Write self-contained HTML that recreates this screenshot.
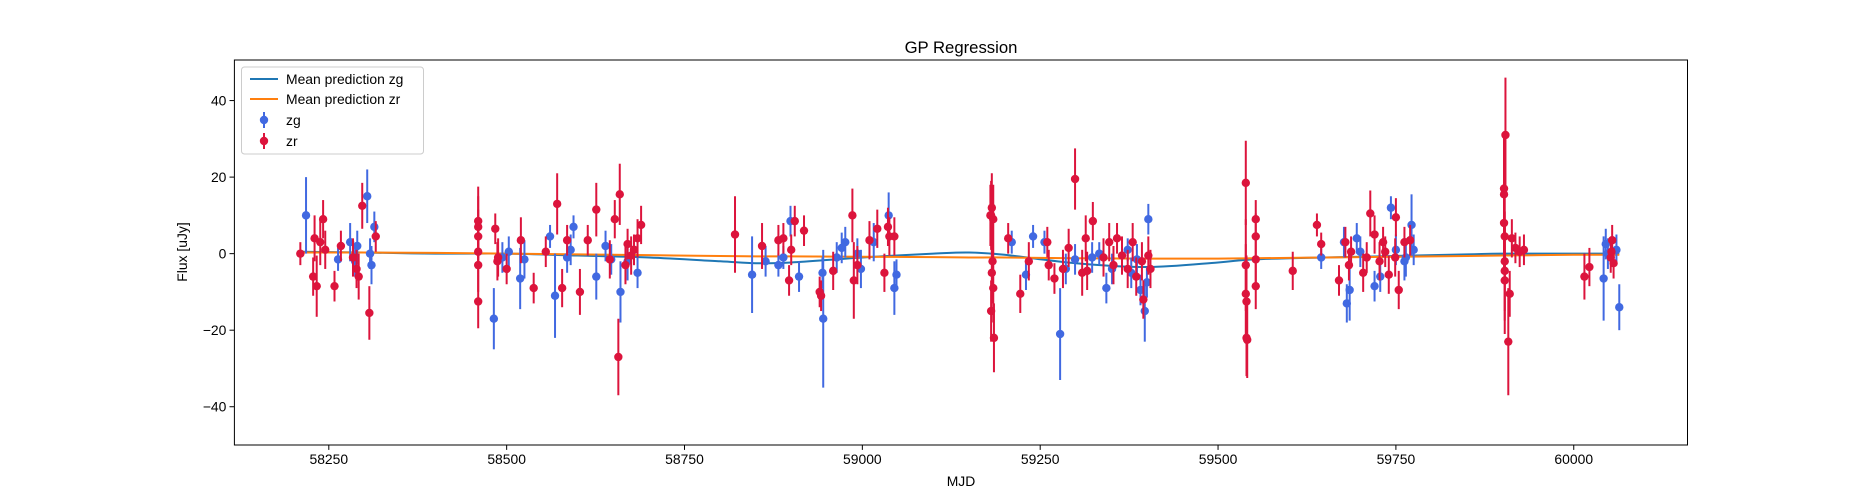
<!DOCTYPE html>
<html><head><meta charset="utf-8">
<style>
body{margin:0;background:#fff;}
svg{display:block;font-family:"Liberation Sans","DejaVu Sans",sans-serif;}
</style></head>
<body>
<svg id="chart" width="1875" height="500" viewBox="0 0 1875 500" xmlns="http://www.w3.org/2000/svg">
<rect width="1875" height="500" fill="#fff"/>
<text x="961" y="53" font-size="16.7" text-anchor="middle">GP Regression</text>
<g id="plot"></g>
<rect x="234.4" y="60" width="1453.1" height="385" fill="none" stroke="#000" stroke-width="1"/>
<g id="axes"></g>
<text x="961" y="486" font-size="13.9" text-anchor="middle">MJD</text>
<text transform="translate(187,252) rotate(-90)" font-size="13.9" text-anchor="middle">Flux [uJy]</text>
<g>
<rect x="241.5" y="67" width="182" height="87" rx="3" fill="#fff" fill-opacity="0.8" stroke="#ccc"/>
<line x1="250" y1="79" x2="278" y2="79" stroke="#1f77b4" stroke-width="2"/>
<text x="286" y="84" font-size="13.9">Mean prediction zg</text>
<line x1="250" y1="99" x2="278" y2="99" stroke="#ff7f0e" stroke-width="2"/>
<text x="286" y="104" font-size="13.9">Mean prediction zr</text>
<line x1="264" y1="112" x2="264" y2="128" stroke="#4169e1" stroke-width="2"/>
<circle cx="264" cy="120" r="4.2" fill="#4169e1"/>
<text x="286" y="125" font-size="13.9">zg</text>
<line x1="264" y1="133" x2="264" y2="149" stroke="#dc143c" stroke-width="2"/>
<circle cx="264" cy="141" r="4.2" fill="#dc143c"/>
<text x="286" y="146" font-size="13.9">zr</text>
</g>
</svg>
<script>
const xTicks=[58250,58500,58750,59000,59250,59500,59750,60000];
const yTicks=[-40,-20,0,20,40];
const zgT=[58218,58263,58280,58287,58290,58304,58314,58310,58308,
58482,58494,58503,58519,58525,58561,58568,58585,58594,58590,58626,58639,58647,58660,58670,58679,58684,
58845,58864,58882,58889,58899,58911,58944,58945,58964,58971,58976,58993,58998,59016,59037,59045,59048,
59210,59230,59240,59256,59278,59286,59299,59323,59333,59343,59351,59373,59378,59386,59391,59397,59400,59402,
59645,59677,59681,59685,59695,59700,59720,59728,59743,59750,59762,59775,59772,59764,
60042,60045,60048,60064,60060];
const zgF=[10,-1.5,3,-2,2,15,7,-3,0,
-17,-1,0.5,-6.5,-1.5,4.5,-11,-1,7,1,-6,2,-1.5,-10,-2,1,-5,
-5.5,-2,-3,-1,8.5,-6,-5,-17,-1,1.5,3,0,-4,3,10,-9,-5.5,
3,-5.5,4.5,3,-21,-4,-1.5,-1,0,-9,-4,1,-5,-1.5,-9.5,-15,-7.5,9,
-1,3,-13,-9.5,4,0.5,-8.5,-6,12,1,-2,1,7.5,-1,
-6.5,2.5,0,-14,1];
const zgE=[10,3,5,4,4,7,4,5,4,
8,4,4,8,5,3,11,4,3,4,6,4,4,8,5,4,4,
10,4,3,3,4,4,4,18,4,4,4,4,5,5,6,7,4,
3,4,3,3,12,4,4,4,3,4,4,3,4,4,4,8,4,4,
3,4,5,8,4,4,4,4,3,4,5,4,8,5,
11,4,4,6,4];
const zrT=[58210,58228,58233,58230,58238,58242,58245,58258,58267,58292,58297,58307,58316,58289,58284,
58460,58460,58460,58460,58460,58460,58484,58487,58488,58500,58520,58538,58555,58571,58578,58585,58603,58614,58626,58645,58652,58659,58657,58667,58675,58684,58689,58670,58679,
58821,58859,58882,58889,58897,58900,58905,58918,58940,58942,58959,58986,58988,58993,59010,59021,59031,59038,59045,59036,
59180,59181,59181,59182,59183,59184,59185,59182,59184,59205,59222,59234,59262,59260,59270,59282,59290,59299,59309,59314,59316,59324,59339,59347,59353,59358,59365,59373,59380,59385,59395,59402,59405,59393,
59539,59539,59539,59540,59540,59541,59553,59553,59553,59553,
59605,59639,59645,59670,59679,59684,59687,59704,59709,59714,59720,59727,59732,59740,59749,59750,59754,59762,59770,59735,
59902,59902,59902,59903,59903,59903,59903,59904,59908,59910,59913,59918,59924,59930,
60015,60022,60052,60053,60054,60056];
const zrF=[0,-6,-8.5,4,3,9,1,-8.5,2,-6,12.5,-15.5,4.5,-4,-1,
8.5,7,4.5,0.5,-3,-12.5,6.5,-2,-1,-4,3.5,-9,0.5,13,-9,3.5,-10,3.5,11.5,-1.5,9,15.5,-27,-3,-0.5,4,7.5,2.5,1,
5,2,3.5,4,-7,1,8.5,6,-10,-11,-4.5,10,-7,-3,3.5,6.5,-5,4.5,4.5,7,
10,10,-15,-5,-2,9,-22,12,-9,4,-10.5,-2,-3,3,-6.5,-4,1.5,19.5,-5,4,-4.5,8.5,-1,3,-3,4,-0.5,-4,3,-6,-12,-0.5,-4,-2,
18.5,-3,-10.5,-12.5,-22,-22.5,9,4.5,-1.5,-8.5,
-4.5,7.5,2.5,-7,3,-3,0.5,-5,-1,10.5,5,-2,3,-5.5,-1,9.5,-9.5,3,3.5,0.5,
17,15.5,8,4.5,-2,-4.5,-7,31,-23,-10.5,4,1.5,0.5,1,
-6,-3.5,-1,0.5,3.5,-2.5];
const zrE=[3,5,8,6,6,5,5,4,4,6,6,7,4,5,5,
9,8,7,6,7,7,4,5,5,4,6,4,4,8,5,4,6,4,7,5,5,8,10,5,5,5,5,4,4,
10,6,4,4,4,4,4,4,4,4,5,7,10,5,5,5,5,5,5,5,
8,9,8,8,10,9,9,9,9,4,5,5,4,4,4,5,5,8,6,6,5,5,5,5,5,4,5,5,5,5,5,5,5,5,
11,12,13,12,10,10,5,6,6,6,
5,3,3,4,4,4,4,5,4,6,5,5,4,5,5,5,5,4,4,4,
14,15,13,12,13,13,14,15,14,6,5,4,4,4,
6,5,4,4,4,4];
const predT=[58210,58300,58400,58500,58600,58700,58800,58850,58900,59000,59100,59150,59200,59300,59400,59500,59550,59650,59750,59850,59900,60000,60064];
const predG=[0.5,0.3,0,0,-0.5,-1,-2,-2.5,-2.3,-1,0,0.3,-0.3,-2.5,-3.5,-2.3,-1.5,-1,-0.6,-0.2,0,0,0];
const predR=[0.3,0.3,0.2,0,-0.2,-0.4,-0.6,-0.7,-0.7,-0.8,-0.9,-1,-1,-1.2,-1.3,-1.3,-1.2,-1,-0.8,-0.6,-0.5,-0.3,-0.3];

const NS='http://www.w3.org/2000/svg';
const X0=58117.3,X1=60159.9,Y0=-50,Y1=50.6,L=234.4,R=1687.5,T=60,B=445;
function xs(t){return L+(t-X0)/(X1-X0)*(R-L);}
function ys(f){return B-(f-Y0)/(Y1-Y0)*(B-T);}
function mk(tag,attrs,parent){const e=document.createElementNS(NS,tag);for(const k in attrs)e.setAttribute(k,attrs[k]);parent.appendChild(e);return e;}
const axes=document.getElementById('axes'),plot=document.getElementById('plot');
xTicks.forEach(v=>{
  const l=mk('line',{x1:xs(v),x2:xs(v),y1:B,y2:B+4.9,stroke:'#000','stroke-width':1},axes);
  
  
  const t=mk('text',{x:xs(v),y:B+19,'font-size':13.9,'text-anchor':'middle'},axes);t.textContent=v;
  
  
});
yTicks.forEach(v=>{
  const l=mk('line',{x1:L-4.9,x2:L,y1:ys(v),y2:ys(v),stroke:'#000','stroke-width':1},axes);
  
  
  const t=mk('text',{x:L-8,y:ys(v)+5,'font-size':13.9,'text-anchor':'end'},axes);t.textContent=(v<0?'\u2212'+(-v):v);
  
  
});
function line(ts,fs,col,name){
  const P=ts.map((t,i)=>[xs(t),ys(fs[i])]);
  let d='M'+P[0][0]+','+P[0][1];
  for(let i=0;i<P.length-1;i++){
    const p0=P[Math.max(0,i-1)],p1=P[i],p2=P[i+1],p3=P[Math.min(P.length-1,i+2)];
    const c1=[p1[0]+(p2[0]-p0[0])/6,p1[1]+(p2[1]-p0[1])/6];
    const c2=[p2[0]-(p3[0]-p1[0])/6,p2[1]-(p3[1]-p1[1])/6];
    d+=' C'+c1[0]+','+c1[1]+' '+c2[0]+','+c2[1]+' '+p2[0]+','+p2[1];
  }
  const p=mk('path',{d:d,fill:'none',stroke:col,'stroke-width':2},plot);
  
  
}
line(predT,predG,'#1f77b4','mean-prediction-zg');
line(predT,predR,'#ff7f0e','mean-prediction-zr');
function pts(ts,fs,es,col,name){
  ts.forEach((t,i)=>{
    const g=mk('g',{},plot);
    
    
    mk('line',{x1:xs(t),x2:xs(t),y1:ys(fs[i]-es[i]),y2:ys(fs[i]+es[i]),stroke:col,'stroke-width':2},g);
    mk('circle',{cx:xs(t),cy:ys(fs[i]),r:4.2,fill:col},g);
  });
}
pts(zgT,zgF,zgE,'#4169e1','zg-point');
pts(zrT,zrF,zrE,'#dc143c','zr-point');
</script>
</body></html>
